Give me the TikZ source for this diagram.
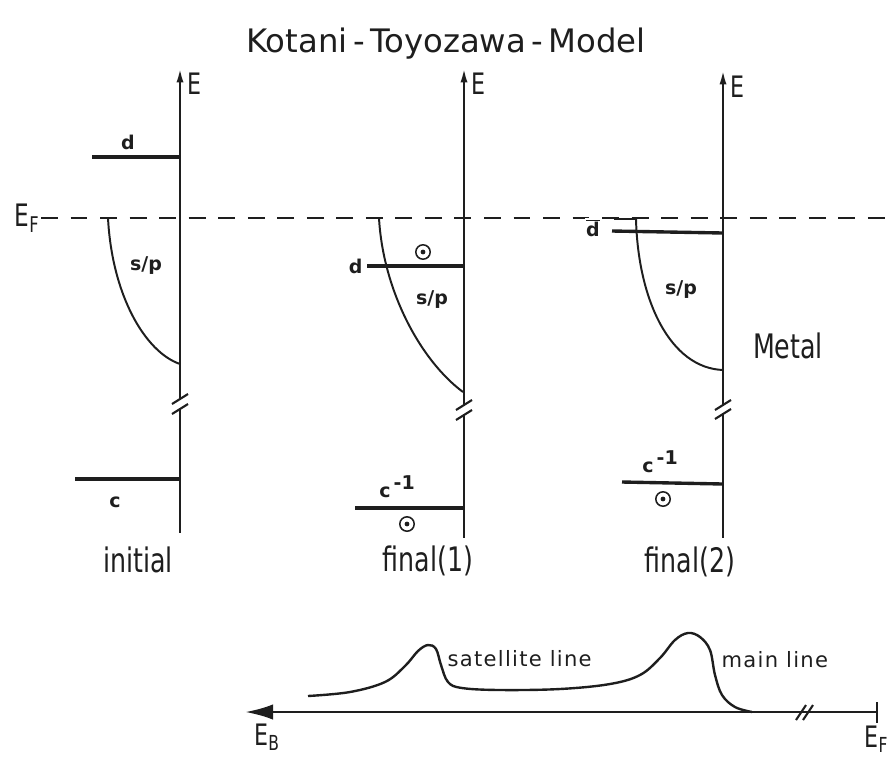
\documentclass[tikz,border=0pt]{standalone}
\usepackage{fontspec}
\setmainfont{DejaVu Sans}
\newfontfamily\narrowfont[FakeStretch=0.75]{DejaVu Sans}
\newfontfamily\specfont[LetterSpace=6]{DejaVu Sans}
\usetikzlibrary{positioning, arrows.meta, calc}
\definecolor{cInk}{HTML}{1E1E1E}
\tikzset{
  axis/.style={line width=1.9pt, draw=cInk},
  eaxis/.style={axis, -{Latex[length=11pt, width=5pt]}},
  level/.style={line width=2.4pt, draw=cInk},
  band/.style={line width=1.4pt, draw=cInk},
  fermi/.style={line width=1.8pt, draw=cInk, dash pattern=on 12pt off 9pt},
  brk/.style={line width=1.5pt, draw=cInk},
  lbl/.style={font=\bfseries\fontsize{13.5}{14}\selectfont, text=cInk, inner sep=1pt},
  ename/.style={font=\narrowfont\fontsize{21}{21}\selectfont, text=cInk, inner sep=1pt},
  stname/.style={font=\narrowfont\fontsize{24}{24}\selectfont, text=cInk, inner sep=1pt},
  speclbl/.style={font=\specfont\fontsize{15}{15}\selectfont, text=cInk, inner sep=1pt},
  hole/.style={
    circle, draw=cInk, line width=1.1pt,
    minimum size=0.36cm, inner sep=0pt,
    path picture={\fill[cInk] (path picture bounding box.center) circle (1.7pt);}
  }
}

\begin{document}
\begin{tikzpicture}[x=0.025cm, y=-0.025cm]
\useasboundingbox (0,0) rectangle (892,758);

%% ── Title ────────────────────────────────────────────────────────
\node[font=\fontsize{23}{23}\selectfont, text=cInk] (title) at (446,44)
  {Kotani\,-\,Toyozawa\,-\,Model};

%% ── Fermi level ──────────────────────────────────────────────────
\node[ename, font=\narrowfont\fontsize{22}{22}\selectfont] (ef) at (27,218) {E\textsubscript{F}};
\coordinate (efend) at (892,218);
\draw[fermi] (ef.east) -- (efend);

%% ── Panel 1: initial ─────────────────────────────────────────────
\coordinate (a1top) at (180,67);
\coordinate (a1hi) at (180,399);
\coordinate (a1lo) at (180,409);
\coordinate (a1bot) at (180,533);
\draw[eaxis] (a1hi) -- (a1top);
\draw[axis] (a1lo) -- (a1bot);
\draw[brk] ($(a1hi)+(-8,5)$) -- ($(a1hi)+(8,-5)$);
\draw[brk] ($(a1lo)+(-8,5)$) -- ($(a1lo)+(8,-5)$);
\node[ename, anchor=west] (e1) at (186,84) {E};

% d level
\coordinate (d1) at (92,157);
\draw[level] (d1) -- (180,157);
\node[lbl] (d1lbl) at (128,142) {d};

% s/p band
\draw[band] (108,218) .. controls (112,295) and (145,352) .. (180,364);
\node[lbl] (sp1) at (146,266) {s/p};

% core level
\coordinate (c1) at (75,479);
\draw[level] (c1) -- (180,479);
\node[lbl] (c1lbl) at (115,502) {c};
\node[stname] (init) at (138,560) {initial};

%% ── Panel 2: final(1) ────────────────────────────────────────────
\coordinate (a2top) at (464,67);
\coordinate (a2hi) at (464,405);
\coordinate (a2lo) at (464,415);
\coordinate (a2bot) at (464,538);
\draw[eaxis] (a2hi) -- (a2top);
\draw[axis] (a2lo) -- (a2bot);
\draw[brk] ($(a2hi)+(-8,5)$) -- ($(a2hi)+(8,-5)$);
\draw[brk] ($(a2lo)+(-8,5)$) -- ($(a2lo)+(8,-5)$);
\node[ename, anchor=west] (e2) at (470,84) {E};

% s/p band
\draw[band] (379,218) .. controls (383,290) and (420,360) .. (463,392);
\node[lbl] (sp2) at (432,300) {s/p};

% pulled-down d level
\coordinate (d2) at (367,266);
\draw[level] (d2) -- (464,266);
\node[lbl, left=2pt of d2] (d2lbl) {d};
\node[hole] (h2d) at (423,252) {};

% core hole
\coordinate (c2) at (355,508);
\draw[level] (c2) -- (464,508);
\node[lbl] (c2lbl) at (397,487) {c\,\raisebox{0.75ex}{-1}};
\node[hole] (h2c) at (407,524) {};
\node[stname] (fin1) at (428,561) {final(1)};

%% ── Panel 3: final(2) ────────────────────────────────────────────
\coordinate (a3top) at (723,69);
\coordinate (a3hi) at (723,405);
\coordinate (a3lo) at (723,414);
\coordinate (a3bot) at (723,538);
\draw[eaxis] (a3hi) -- (a3top);
\draw[axis] (a3lo) -- (a3bot);
\draw[brk] ($(a3hi)+(-8,5)$) -- ($(a3hi)+(8,-5)$);
\draw[brk] ($(a3lo)+(-8,5)$) -- ($(a3lo)+(8,-5)$);
\node[ename, anchor=west] (e3) at (729,87) {E};

% screened d level
\coordinate (d3) at (612,231);
\draw[level] (d3) -- (723,233);
\node[lbl, fill=white] (d3lbl) at (593,228) {$\overline{\mbox{d}}$};

% s/p band
\draw[band] (614,219) -- (636,219) .. controls (638,300) and (670,368) .. (723,370);
\node[lbl] (sp3) at (681,290) {s/p};
\node[stname] (metal) at (788,346) {Metal};

% core hole
\coordinate (c3) at (622,482);
\draw[level] (c3) -- (723,484);
\node[lbl] (c3lbl) at (660,462) {c\,\raisebox{0.75ex}{-1}};
\node[hole] (h3c) at (663,499) {};
\node[stname] (fin2) at (690,562) {final(2)};

%% ── Spectrum ─────────────────────────────────────────────────────
\coordinate (ebend) at (245,712);
\coordinate (efbot) at (877,712);
\draw[axis, line width=2pt, -{Latex[length=20pt, width=11pt]}] (efbot) -- (ebend);
\draw[brk] (877,702) -- (877,723);
\draw[brk] (796,720) -- (806,705);
\draw[brk] (803,720) -- (813,705);
\node[ename, font=\narrowfont\fontsize{21}{21}\selectfont] (eb) at (267,737) {E\textsubscript{B}};
\node[ename, font=\narrowfont\fontsize{21}{21}\selectfont, anchor=west] (ef2) at (863,739) {E\textsubscript{F}};

\draw[band, line width=1.7pt] plot[smooth, tension=0.6] coordinates {
  (308,696) (350,692) (385,682) (405,666) (418,651) (428,645) (436,649)
  (441,665) (448,682) (462,688) (500,690) (560,689) (610,684) (640,675)
  (660,658) (675,640) (688,633) (700,637) (710,650) (715,675) (722,695)
  (735,707) (752,712)};
\node[speclbl, anchor=west] (sat) at (446,659) {satellite line};
\node[speclbl, anchor=west] (main) at (720,660) {main line};

\end{tikzpicture}
\end{document}
